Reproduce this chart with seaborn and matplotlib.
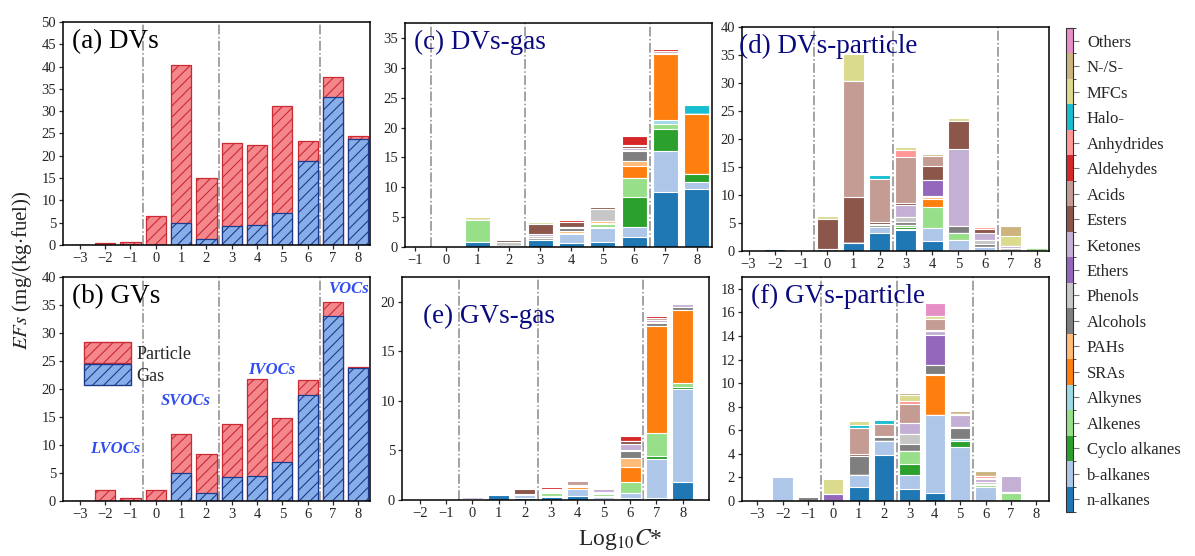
import numpy as np
import matplotlib
matplotlib.use("Agg")
import matplotlib.pyplot as plt
import matplotlib.cm as cm
from matplotlib.colors import ListedColormap, BoundaryNorm
from matplotlib.patches import Patch
import seaborn as sns

sns.set_style("ticks")
plt.rcParams["font.family"] = ["Liberation Serif", "DejaVu Serif"]
plt.rcParams["mathtext.fontset"] = "stix"
plt.rcParams["hatch.linewidth"] = 0.8
plt.rcParams["axes.linewidth"] = 1.1

# compound classes (bottom -> top of each stack)
classes = ["n-alkanes", "b-alkanes", "Cyclo alkanes", "Alkenes", "Alkynes", "SRAs",
           "PAHs", "Alcohols", "Phenols", "Ethers", "Ketones", "Esters", "Acids",
           "Aldehydes", "Anhydrides", "Halo-", "MFCs", "N-/S-", "Others"]
class_colors = ["#1f77b4", "#aec7e8", "#2ca02c", "#98df8a", "#9edae5", "#ff7f0e",
                "#ffbb78", "#7f7f7f", "#c7c7c7", "#9467bd", "#c5b0d5", "#8c564b",
                "#c49c94", "#d62728", "#ff9896", "#17becf", "#dbdb8d", "#cdb47f",
                "#e68fc6"]

# (a) / (b) gas + particle totals
bins_ab = list(range(-3, 9))
dv_gas = [0, 0, 0, 0, 5.0, 1.4, 4.2, 4.5, 7.1, 18.8, 33.1, 23.7]
dv_total = [0, 0.5, 0.7, 6.4, 40.3, 15.0, 22.8, 22.4, 31.1, 23.4, 37.7, 24.5]
gv_gas = [0, 0, 0, 0, 5.0, 1.4, 4.2, 4.5, 6.9, 18.9, 33.1, 23.8]
gv_total = [0, 2.0, 0.6, 2.0, 11.9, 8.4, 13.7, 21.7, 14.9, 21.6, 35.6, 24.0]

# (c) DVs-gas, bins -1..8
bins_c = list(range(-1, 9))
dvs_gas = {
    "n-alkanes":     [0, 0, 0.9, 0.1, 1.1, 0.6, 0.9, 1.7, 9.2, 9.7],
    "b-alkanes":     [0, 0, 0, 0.1, 0.1, 1.6, 2.3, 1.7, 6.8, 1.2],
    "Cyclo alkanes": [0, 0, 0, 0, 0, 0, 0.2, 4.9, 3.8, 1.3],
    "Alkenes":       [0, 0, 3.6, 0, 0, 0, 0.5, 3.3, 0.8, 0.1],
    "Alkynes":       [0, 0, 0, 0, 0, 0, 0, 0, 0.6, 0],
    "SRAs":          [0, 0, 0, 0, 0, 0.1, 0.2, 1.9, 11.1, 9.9],
    "PAHs":          [0, 0, 0, 0, 0, 0.3, 0.3, 0.9, 0.1, 0],
    "Alcohols":      [0, 0, 0, 0, 0.3, 0.5, 0, 1.6, 0, 0],
    "Phenols":       [0, 0, 0, 0.7, 0.3, 0.2, 2.0, 0.3, 0, 0],
    "Ketones":       [0, 0, 0, 0, 0.4, 0, 0, 0.2, 0, 0],
    "Esters":        [0, 0, 0, 0.2, 1.7, 0.9, 0.3, 0.4, 0.1, 0],
    "Acids":         [0, 0, 0, 0.1, 0, 0, 0, 0.2, 0.3, 0],
    "Aldehydes":     [0, 0, 0, 0, 0, 0.4, 0, 1.4, 0.3, 0],
    "Anhydrides":    [0, 0, 0, 0, 0, 0.1, 0, 0, 0, 0],
    "Halo-":         [0, 0, 0, 0, 0, 0, 0.1, 0, 0, 1.6],
    "MFCs":          [0, 0, 0.5, 0, 0.3, 0, 0, 0, 0, 0],
    "N-/S-":         [0, 0, 0, 0, 0, 0, 0, 0.3, 0, 0],
}

# (d) DVs-particle, bins -3..8
bins_d = list(range(-3, 9))
dvs_particle = {
    "n-alkanes":     [0, 0.3, 0, 0, 1.5, 3.3, 3.7, 1.8, 0.1, 0, 0, 0],
    "b-alkanes":     [0, 0, 0, 0, 0, 0.9, 0.3, 2.3, 1.9, 0.7, 0, 0],
    "Cyclo alkanes": [0, 0, 0, 0, 0, 0, 0.2, 0, 0, 0, 0, 0],
    "Alkenes":       [0, 0, 0, 0, 0, 0, 0.4, 3.8, 1.3, 0, 0, 0.5],
    "SRAs":          [0, 0, 0, 0, 0, 0, 0, 1.4, 0, 0, 0, 0],
    "PAHs":          [0, 0, 0, 0, 0, 0, 0, 0.3, 0, 0, 0, 0],
    "Alcohols":      [0, 0, 0, 0, 0, 0.5, 0.6, 0.3, 1.2, 0.5, 0, 0],
    "Phenols":       [0, 0, 0, 0, 0, 0, 0.9, 0, 0, 0.7, 0.5, 0],
    "Ethers":        [0, 0, 0, 0.4, 0, 0, 0, 2.7, 0, 0, 0, 0],
    "Ketones":       [0, 0, 0, 0, 0, 0.1, 2.2, 0, 13.7, 1.4, 0.4, 0],
    "Esters":        [0, 0, 0, 5.3, 8.1, 0.3, 0.3, 2.6, 5.0, 0.6, 0, 0],
    "Acids":         [0, 0, 0, 0, 20.8, 7.7, 8.2, 1.8, 0, 0, 0, 0],
    "Anhydrides":    [0, 0, 0, 0, 0, 0, 1.2, 0, 0, 0.4, 0, 0],
    "Halo-":         [0, 0, 0, 0, 0, 0.7, 0, 0, 0, 0, 0, 0],
    "MFCs":          [0, 0, 0, 0.6, 4.8, 0, 0.5, 0, 0.5, 0, 1.8, 0],
    "N-/S-":         [0, 0, 0, 0, 0, 0, 0, 0.4, 0, 0, 1.7, 0],
}

# (e) GVs-gas, bins -2..8
bins_e = list(range(-2, 9))
gvs_gas = {
    "n-alkanes":     [0, 0, 0, 0.5, 0.25, 0.3, 0.4, 0.15, 0.2, 0.2, 1.8],
    "b-alkanes":     [0, 0, 0, 0.1, 0.25, 0.15, 0.7, 0.2, 0.5, 3.9, 9.4],
    "Cyclo alkanes": [0, 0, 0.1, 0, 0, 0, 0, 0.1, 0, 0.3, 0.2],
    "Alkenes":       [0, 0, 0, 0, 0, 0.3, 0, 0.15, 1.1, 2.4, 0.4],
    "SRAs":          [0, 0, 0, 0, 0, 0.1, 0.2, 0.1, 1.5, 10.8, 7.4],
    "PAHs":          [0, 0, 0, 0, 0, 0, 0.1, 0, 0.9, 0, 0],
    "Alcohols":      [0, 0, 0, 0, 0, 0.1, 0, 0.15, 0.7, 0.3, 0.3],
    "Phenols":       [0, 0, 0, 0, 0, 0, 0, 0, 0.1, 0.1, 0],
    "Ketones":       [0, 0, 0.2, 0, 0.15, 0.1, 0.1, 0.25, 0.7, 0.2, 0.3],
    "Esters":        [0, 0, 0, 0, 0.5, 0.1, 0, 0.1, 0.3, 0, 0],
    "Acids":         [0, 0, 0, 0, 0.05, 0, 0.4, 0, 0, 0.2, 0.1],
    "Aldehydes":     [0, 0, 0, 0, 0, 0.15, 0, 0.1, 0.5, 0.2, 0],
    "Anhydrides":    [0, 0, 0, 0, 0, 0, 0.1, 0, 0, 0, 0],
}

# (f) GVs-particle, bins -3..8
bins_f = list(range(-3, 9))
gvs_particle = {
    "n-alkanes":     [0, 0, 0, 0, 1.15, 3.9, 1.0, 0.7, 0, 0, 0, 0],
    "b-alkanes":     [0, 2.0, 0, 0, 1.05, 1.2, 1.2, 6.6, 4.6, 1.2, 0, 0],
    "Cyclo alkanes": [0, 0, 0, 0, 0, 0, 0.9, 0, 0.45, 0, 0, 0.1],
    "Alkenes":       [0, 0, 0, 0, 0, 0, 1.1, 0, 0, 0.15, 0.65, 0],
    "Alkynes":       [0, 0, 0, 0, 0, 0, 0, 0, 0.2, 0, 0, 0],
    "SRAs":          [0, 0, 0, 0, 0, 0, 0, 3.4, 0, 0, 0, 0],
    "PAHs":          [0, 0, 0, 0, 0, 0, 0, 0.1, 0, 0, 0, 0],
    "Alcohols":      [0, 0, 0.35, 0, 1.6, 0.35, 0.6, 0.7, 0.95, 0.1, 0, 0],
    "Phenols":       [0, 0, 0, 0, 0, 0, 0.9, 0, 0.1, 0.2, 0.1, 0],
    "Ethers":        [0, 0, 0, 0.6, 0, 0, 0, 2.6, 0, 0, 0, 0],
    "Ketones":       [0, 0, 0, 0, 0, 0, 0.9, 0.3, 1.0, 0.2, 1.35, 0],
    "Esters":        [0, 0, 0, 0, 0.15, 0.1, 0, 0.1, 0.1, 0.1, 0, 0],
    "Acids":         [0, 0, 0, 0, 2.25, 0.95, 1.6, 0.9, 0, 0, 0, 0],
    "Anhydrides":    [0, 0, 0, 0, 0, 0, 0.3, 0, 0, 0.2, 0, 0],
    "Halo-":         [0, 0, 0, 0, 0.25, 0.35, 0, 0, 0, 0, 0, 0],
    "MFCs":          [0, 0, 0, 1.3, 0.3, 0, 0.5, 0.3, 0, 0, 0, 0],
    "N-/S-":         [0, 0, 0, 0, 0, 0, 0.2, 0, 0.2, 0.4, 0, 0],
    "Others":        [0, 0, 0, 0, 0, 0, 0, 1.1, 0, 0, 0, 0],
}

title_color = "#0a0a80"
line_color = "#8a8a8a"


def draw_stack(ax, bins, data):
    mat = np.array([data.get(c, [0] * len(bins)) for c in classes], dtype=float)
    cum = mat.cumsum(axis=0)
    # draw cumulative heights from top class down so lower classes overlay
    for i in range(len(classes) - 1, -1, -1):
        if mat[i].sum() == 0:
            continue
        sns.barplot(x=bins, y=cum[i], ax=ax, color=class_colors[i], native_scale=True,
                    saturation=1, width=0.8, edgecolor="white", linewidth=0.8,
                    errorbar=None)


def draw_hatched(ax, bins, gas, total):
    sns.barplot(x=bins, y=total, ax=ax, color="#f4878c", native_scale=True,
                saturation=1, width=0.8, edgecolor="#cc2a33", linewidth=0.9,
                hatch="///", errorbar=None)
    sns.barplot(x=bins, y=gas, ax=ax, color="#88aee9", native_scale=True,
                saturation=1, width=0.8, edgecolor="#1d3b8a", linewidth=0.9,
                hatch="///", errorbar=None)


def style_ax(ax, ticks, xlim, ylim, yticks, vlines, title, tcolor):
    ax.set_xlim(*xlim)
    ax.set_ylim(*ylim)
    ax.set_xticks(ticks)
    ax.set_xticklabels([str(t).replace("-", "\u2212") for t in ticks])
    ax.set_yticks(yticks)
    ax.set_xlabel("")
    ax.set_ylabel("")
    ax.tick_params(axis="both", labelsize=10.5, length=3, width=0.9, direction="out",
                   pad=2)
    for v in vlines:
        ax.axvline(v, color=line_color, lw=1.1, ls="-.", zorder=0.5)
    for s in ax.spines.values():
        s.set_visible(True)
        s.set_color("black")
        s.set_linewidth(1.1)
    ax.text(0.03, 0.97, title, transform=ax.transAxes, ha="left", va="top",
            fontsize=19.5, color=tcolor)


fig = plt.figure(figsize=(11.95, 5.56), dpi=100)
W, H = 1195.0, 556.0


def add_ax(left, top, right, bottom):
    return fig.add_axes([left / W, 1 - bottom / H, (right - left) / W, (bottom - top) / H])


ax_a = add_ax(63, 22, 370, 245)
ax_b = add_ax(63, 277, 370, 501)
ax_c = add_ax(405, 23, 712, 247)
ax_d = add_ax(742, 27, 1049, 251)
ax_e = add_ax(402, 277, 709, 500)
ax_f = add_ax(742, 277, 1049, 501)

draw_hatched(ax_a, bins_ab, dv_gas, dv_total)
style_ax(ax_a, bins_ab, (-3.66, 8.46), (0, 50), range(0, 51, 5), [-0.5, 2.5, 6.5],
         "(a) DVs", "black")

draw_hatched(ax_b, bins_ab, gv_gas, gv_total)
style_ax(ax_b, bins_ab, (-3.66, 8.46), (0, 40), range(0, 41, 5), [-0.5, 2.5, 6.5],
         "(b) GVs", "black")
ax_b.legend(handles=[Patch(facecolor="#f4878c", edgecolor="#cc2a33", hatch="///", label="Particle"),
                     Patch(facecolor="#88aee9", edgecolor="#1d3b8a", hatch="///", label="Gas")],
            loc="upper left", bbox_to_anchor=(0.045, 0.74), frameon=False, fontsize=13,
            handlelength=2.6, handleheight=1.4, handletextpad=0.3, labelspacing=0.05,
            borderaxespad=0)
voc_color = "#2f4cf5"
for label, xx, yy in [("LVOCs", -1.6, 9.3), ("SVOCs", 1.2, 17.8), ("IVOCs", 4.6, 23.4),
                      ("VOCs", 7.6, 37.8)]:
    ax_b.text(xx, yy, label, color=voc_color, fontsize=12, fontweight="bold",
              fontstyle="italic", ha="center", va="center")

draw_stack(ax_c, bins_c, dvs_gas)
style_ax(ax_c, bins_c, (-1.32, 8.49), (0, 37.5), range(0, 36, 5), [-0.5, 2.5, 6.5],
         "(c) DVs-gas", title_color)

draw_stack(ax_d, bins_d, dvs_particle)
style_ax(ax_d, bins_d, (-3.25, 8.46), (0, 40), range(0, 41, 5), [-0.5, 2.5, 6.5],
         "(d) DVs-particle", title_color)
ax_d.texts[-1].set_position((-0.01, 0.97))

draw_stack(ax_e, bins_e, gvs_gas)
style_ax(ax_e, bins_e, (-2.67, 9.0), (0, 22.5), range(0, 21, 5), [-0.5, 2.5, 6.5],
         "(e) GVs-gas", title_color)
ax_e.texts[-1].set_position((0.07, 0.88))

draw_stack(ax_f, bins_f, gvs_particle)
style_ax(ax_f, bins_f, (-3.6, 8.5), (0, 19), range(0, 19, 2), [-0.5, 2.5, 5.5],
         "(f) GVs-particle", title_color)

# class colour key
cax = fig.add_axes([1066 / W, 1 - 512 / H, 7 / W, 484 / H])
cmap = ListedColormap(class_colors)
norm = BoundaryNorm(np.arange(len(classes) + 1), cmap.N)
cb = fig.colorbar(cm.ScalarMappable(norm=norm, cmap=cmap), cax=cax,
                  ticks=np.arange(len(classes)) + 0.5)
cb.ax.set_yticklabels(classes)
cb.ax.tick_params(labelsize=12, length=4, width=0.8, color="#777777", pad=6)
cb.outline.set_edgecolor("#333333")
cb.outline.set_linewidth(0.8)

fig.text(0.018, 0.514, r"$\mathit{EFs}$ (mg/(kg$\cdot$fuel))", rotation=90,
         ha="center", va="center", fontsize=15)
fig.text(0.519, 0.03, r"Log$_{10}$$\mathit{C}$*", ha="center", va="center", fontsize=17)

fig.savefig("out.png", dpi=100)
